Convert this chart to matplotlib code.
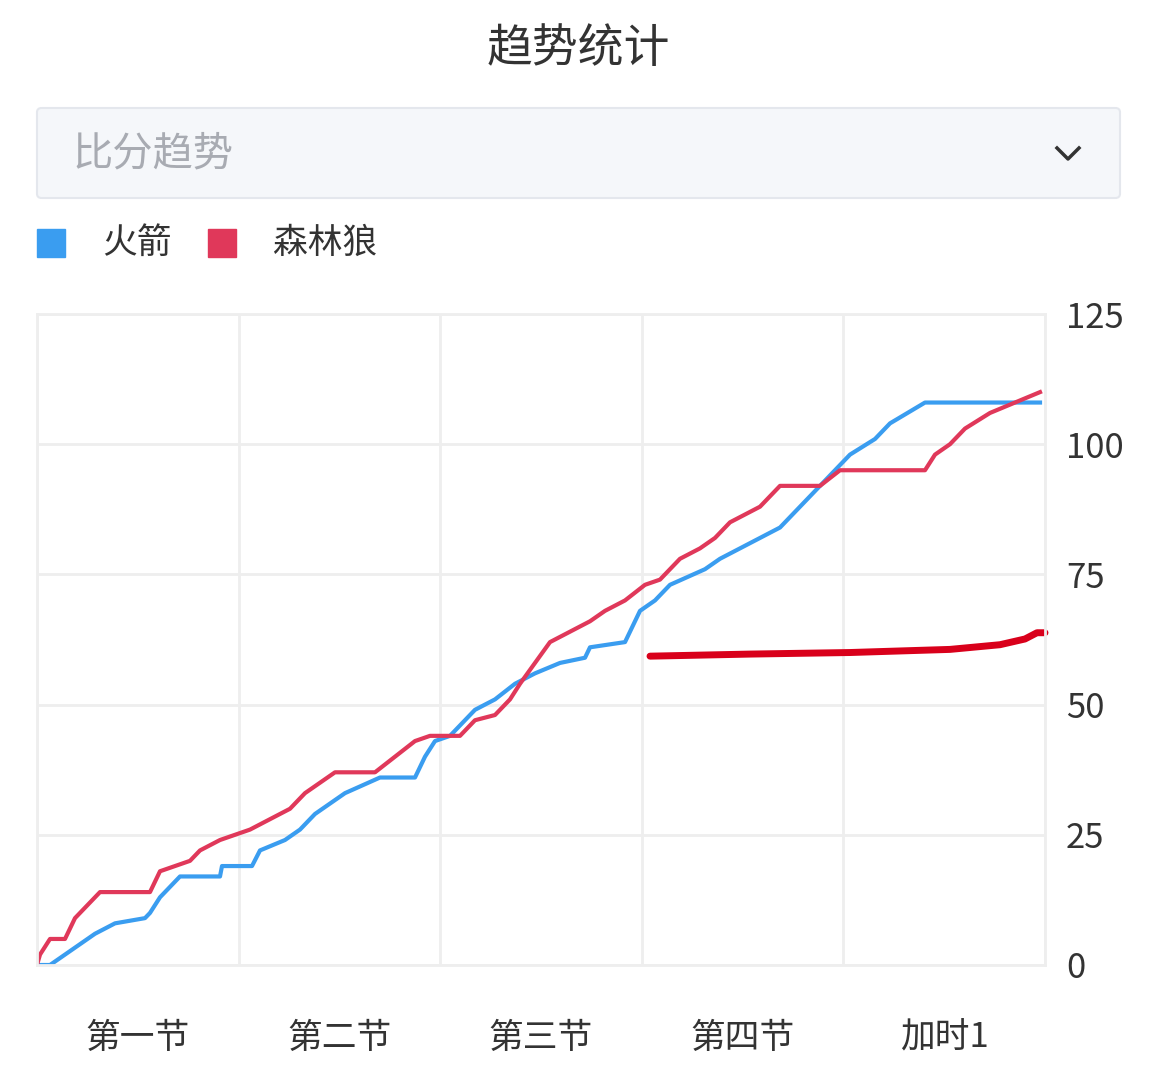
import matplotlib.pyplot as plt
from matplotlib.patches import FancyBboxPatch, Rectangle
from matplotlib.lines import Line2D
import numpy as np

plt.rcParams['font.family'] = ['Noto Sans CJK SC', 'DejaVu Sans']

quarters = ['第一节', '第二节', '第三节', '第四节', '加时1']
yticks = [0, 25, 50, 75, 100, 125]

# pixel x positions, converted to period units below
rockets_px = [37, 50, 65, 80, 95, 115, 145, 150, 160, 180, 220, 222, 252, 260, 285, 300, 315, 330, 345,
              380, 415, 425, 435, 450, 460, 475, 495, 515, 535, 560, 585, 590, 625, 640, 655, 670, 705,
              720, 760, 780, 800, 820, 835, 850, 875, 890, 925, 1040]
rockets = [0, 0, 2, 4, 6, 8, 9, 10, 13, 17, 17, 19, 19, 22, 24, 26, 29, 31, 33, 36, 36, 40, 43, 44, 46,
           49, 51, 54, 56, 58, 59, 61, 62, 68, 70, 73, 76, 78, 82, 84, 88, 92, 95, 98, 101, 104, 108, 108]
wolves_px = [37, 40, 50, 65, 75, 90, 100, 150, 160, 175, 190, 200, 220, 250, 270, 290, 305, 320, 335, 375,
             395, 415, 430, 460, 475, 495, 510, 520, 535, 550, 570, 590, 605, 625, 645, 660, 680, 700, 715,
             730, 760, 780, 820, 840, 925, 935, 950, 965, 990, 1040]
wolves = [0, 2, 5, 5, 9, 12, 14, 14, 18, 19, 20, 22, 24, 26, 28, 30, 33, 35, 37, 37, 40, 43, 44, 44, 47,
          48, 51, 54, 58, 62, 64, 66, 68, 70, 73, 74, 78, 80, 82, 85, 88, 92, 92, 95, 95, 98, 100, 103, 106, 110]
mark_px = [650, 750, 850, 950, 1000, 1025, 1037, 1045]
mark = [59.3, 59.7, 60.0, 60.6, 61.5, 62.6, 63.8, 63.8]

def to_x(px):
    return (np.array(px) - 37) / 201.6

fig = plt.figure(figsize=(11.56, 10.8), dpi=100)
fig.text(0.5, 0.955, '趋势统计', ha='center', va='center', fontsize=33, color='#333333')

box = FancyBboxPatch((37/1156, 1-198/1080), (1120-37)/1156, 90/1080, boxstyle='round,pad=0,rounding_size=0.004',
                     transform=fig.transFigure, facecolor='#f5f7fa', edgecolor='#e4e7ed', lw=1.5)
fig.patches.append(box)
fig.text(72/1156, 1-154/1080, '比分趋势', va='center', fontsize=29, color='#a8abb2')
fig.lines.append(Line2D([1057/1156, 1068/1156, 1079/1156], [1-148/1080, 1-159/1080, 1-148/1080],
                        transform=fig.transFigure, color='#333333', lw=2.5))

fig.patches.append(Rectangle((37/1156, 1-257/1080), 28/1156, 28/1080, transform=fig.transFigure, color='#3a9df0'))
fig.text(102/1156, 1-243/1080, '火箭', va='center', fontsize=25, color='#333333')
fig.patches.append(Rectangle((208/1156, 1-257/1080), 28/1156, 28/1080, transform=fig.transFigure, color='#e0385a'))
fig.text(273/1156, 1-243/1080, '森林狼', va='center', fontsize=25, color='#333333')

ax = fig.add_axes([37/1156, 1-965/1080, 1008/1156, 651/1080])
ax.plot(to_x(rockets_px), rockets, color='#3a9df0', lw=3)
ax.plot(to_x(wolves_px), wolves, color='#e0385a', lw=3)
ax.plot(to_x(mark_px), mark, color='#d9001b', lw=5, solid_capstyle='round', clip_on=False)
ax.set_xlim(0, 5)
ax.set_ylim(0, 125)
ax.set_xticks(range(6))
ax.set_xticklabels([])
ax.set_xticks(np.arange(5) + 0.5, minor=True)
ax.set_xticklabels(quarters, minor=True, fontsize=25, color='#333333')
ax.tick_params(axis='x', which='both', length=0, pad=40)
ax.yaxis.tick_right()
ax.set_yticks(yticks)
ax.set_yticklabels([str(v) for v in yticks], fontsize=25, color='#333333')
ax.tick_params(axis='y', length=0, pad=15)
ax.grid(True, color='#eeeeee', lw=2)
ax.set_axisbelow(True)
for s in ax.spines.values():
    s.set_color('#eeeeee')
    s.set_linewidth(2)

fig.savefig('out.png', dpi=100)
